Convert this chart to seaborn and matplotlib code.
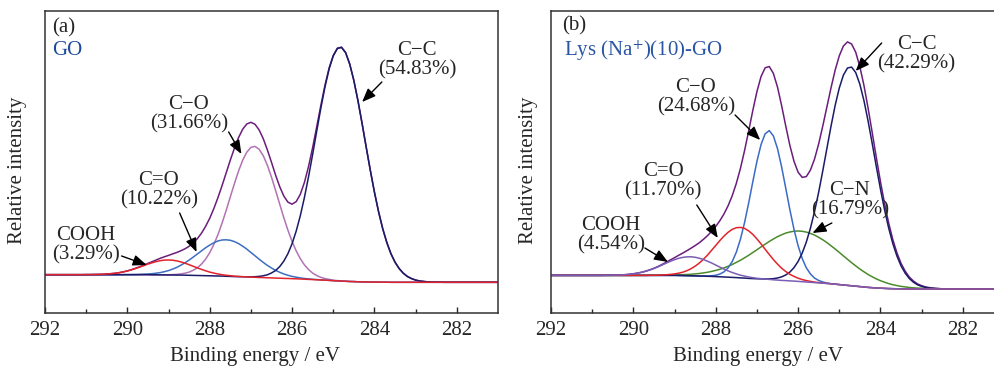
import matplotlib
matplotlib.use("Agg")
import matplotlib.pyplot as plt
import matplotlib.ticker as mtick
import numpy as np
import pandas as pd
import seaborn as sns


# binding energy grid (eV), 0.1 eV steps, shared by both panels
ENERGY = [
    292.0, 291.9, 291.8, 291.7, 291.6, 291.5, 291.4, 291.3, 291.2, 291.1,
    291.0, 290.9, 290.8, 290.7, 290.6, 290.5, 290.4, 290.3, 290.2, 290.1,
    290.0, 289.9, 289.8, 289.7, 289.6, 289.5, 289.4, 289.3, 289.2, 289.1,
    289.0, 288.9, 288.8, 288.7, 288.6, 288.5, 288.4, 288.3, 288.2, 288.1,
    288.0, 287.9, 287.8, 287.7, 287.6, 287.5, 287.4, 287.3, 287.2, 287.1,
    287.0, 286.9, 286.8, 286.7, 286.6, 286.5, 286.4, 286.3, 286.2, 286.1,
    286.0, 285.9, 285.8, 285.7, 285.6, 285.5, 285.4, 285.3, 285.2, 285.1,
    285.0, 284.9, 284.8, 284.7, 284.6, 284.5, 284.4, 284.3, 284.2, 284.1,
    284.0, 283.9, 283.8, 283.7, 283.6, 283.5, 283.4, 283.3, 283.2, 283.1,
    283.0, 282.9, 282.8, 282.7, 282.6, 282.5, 282.4, 282.3, 282.2, 282.1,
    282.0, 281.9, 281.8, 281.7, 281.6, 281.5, 281.4, 281.3, 281.2, 281.1,
    281.0,
]

# (a) GO -- background, and fitted components above the background (a.u.)
BASE_A = [
    38.3, 38.3, 38.3, 38.3, 38.3, 38.3, 38.3, 38.3, 38.3, 38.3,
    38.3, 38.3, 38.3, 38.3, 38.3, 38.3, 38.3, 38.3, 38.3, 38.3,
    38.3, 38.3, 38.3, 38.3, 38.3, 38.3, 38.2, 38.2, 38.1, 38.1,
    38.0, 38.0, 37.9, 37.9, 37.8, 37.7, 37.6, 37.5, 37.4, 37.3,
    37.2, 37.1, 37.0, 36.9, 36.7, 36.6, 36.4, 36.3, 36.1, 36.0,
    35.8, 35.7, 35.5, 35.4, 35.2, 35.1, 34.9, 34.8, 34.6, 34.5,
    34.3, 34.2, 34.0, 33.8, 33.6, 33.4, 33.2, 33.0, 32.8, 32.6,
    32.3, 32.1, 31.9, 31.7, 31.5, 31.4, 31.2, 31.1, 31.0, 31.0,
    30.9, 30.9, 30.8, 30.8, 30.7, 30.7, 30.7, 30.7, 30.7, 30.7,
    30.7, 30.7, 30.7, 30.7, 30.7, 30.7, 30.7, 30.7, 30.7, 30.7,
    30.7, 30.7, 30.7, 30.7, 30.7, 30.7, 30.7, 30.7, 30.7, 30.7,
    30.7,
]
COOH_A = [
    0, 0, 0, 0, 0, 0, 0, 0, 0, 0,
    0.1, 0.1, 0.2, 0.3, 0.4, 0.7, 1.0, 1.4, 2.0, 2.8,
    3.7, 4.9, 6.2, 7.6, 9.1, 10.6, 12.0, 13.2, 14.2, 14.8,
    15.0, 14.8, 14.2, 13.2, 12.0, 10.6, 9.1, 7.6, 6.2, 4.9,
    3.7, 2.8, 2.0, 1.4, 1.0, 0.7, 0.4, 0.3, 0.2, 0.1,
    0.1, 0, 0, 0, 0, 0, 0, 0, 0, 0,
    0, 0, 0, 0, 0, 0, 0, 0, 0, 0,
    0, 0, 0, 0, 0, 0, 0, 0, 0, 0,
    0, 0, 0, 0, 0, 0, 0, 0, 0, 0,
    0, 0, 0, 0, 0, 0, 0, 0, 0, 0,
    0, 0, 0, 0, 0, 0, 0, 0, 0, 0,
    0,
]
C_DBL_O_A = [
    0, 0, 0, 0, 0, 0, 0, 0, 0, 0,
    0, 0, 0, 0, 0, 0, 0, 0, 0, 0,
    0.1, 0.1, 0.2, 0.3, 0.5, 0.7, 1.1, 1.6, 2.3, 3.2,
    4.4, 5.9, 7.7, 9.9, 12.4, 15.2, 18.3, 21.5, 24.7, 27.9,
    30.7, 33.1, 35.0, 36.1, 36.5, 36.1, 35.0, 33.1, 30.7, 27.9,
    24.7, 21.5, 18.3, 15.2, 12.4, 9.9, 7.7, 5.9, 4.4, 3.2,
    2.3, 1.6, 1.1, 0.7, 0.5, 0.3, 0.2, 0.1, 0.1, 0,
    0, 0, 0, 0, 0, 0, 0, 0, 0, 0,
    0, 0, 0, 0, 0, 0, 0, 0, 0, 0,
    0, 0, 0, 0, 0, 0, 0, 0, 0, 0,
    0, 0, 0, 0, 0, 0, 0, 0, 0, 0,
    0,
]
C_O_A = [
    0, 0, 0, 0, 0, 0, 0, 0, 0, 0,
    0, 0, 0, 0, 0, 0, 0, 0, 0, 0,
    0, 0, 0, 0, 0, 0, 0, 0, 0.1, 0.1,
    0.2, 0.4, 0.7, 1.2, 2.0, 3.2, 5.1, 7.7, 11.5, 16.5,
    23.1, 31.4, 41.4, 53.0, 65.9, 79.5, 93.0, 105.7, 116.6, 124.8,
    129.8, 130.9, 128.2, 121.9, 112.5, 100.8, 87.6, 74.0, 60.6, 48.2,
    37.2, 27.9, 20.3, 14.3, 9.8, 6.5, 4.2, 2.6, 1.6, 1.0,
    0.5, 0.3, 0.2, 0.1, 0, 0, 0, 0, 0, 0,
    0, 0, 0, 0, 0, 0, 0, 0, 0, 0,
    0, 0, 0, 0, 0, 0, 0, 0, 0, 0,
    0, 0, 0, 0, 0, 0, 0, 0, 0, 0,
    0,
]
C_C_A = [
    0, 0, 0, 0, 0, 0, 0, 0, 0, 0,
    0, 0, 0, 0, 0, 0, 0, 0, 0, 0,
    0, 0, 0, 0, 0, 0, 0, 0, 0, 0,
    0, 0, 0, 0, 0, 0, 0, 0, 0, 0,
    0, 0, 0, 0, 0, 0, 0, 0, 0.1, 0.2,
    0.3, 0.6, 1.1, 1.8, 3.0, 4.9, 7.6, 11.6, 17.3, 24.9,
    35.0, 47.7, 63.3, 81.8, 102.7, 125.4, 149.0, 172.2, 193.5, 211.5,
    224.8, 232.4, 233.7, 228.6, 217.4, 201.1, 181.0, 158.4, 134.8, 111.6,
    89.9, 70.4, 53.6, 39.7, 28.6, 20.1, 13.7, 9.1, 5.8, 3.7,
    2.2, 1.3, 0.8, 0.4, 0.2, 0.1, 0.1, 0, 0, 0,
    0, 0, 0, 0, 0, 0, 0, 0, 0, 0,
    0,
]

# (b) Lys (Na+)(10)-GO
BASE_B = [
    37.6, 37.6, 37.6, 37.6, 37.6, 37.6, 37.6, 37.6, 37.6, 37.6,
    37.6, 37.6, 37.6, 37.6, 37.6, 37.6, 37.6, 37.6, 37.6, 37.6,
    37.6, 37.6, 37.6, 37.6, 37.6, 37.6, 37.6, 37.6, 37.6, 37.6,
    37.6, 37.5, 37.4, 37.3, 37.2, 37.1, 37.0, 36.9, 36.7, 36.6,
    36.4, 36.2, 36.0, 35.8, 35.6, 35.4, 35.1, 34.9, 34.6, 34.4,
    34.1, 33.9, 33.6, 33.4, 33.1, 32.9, 32.6, 32.4, 32.1, 31.9,
    31.6, 31.3, 31.0, 30.7, 30.4, 30.1, 29.8, 29.5, 29.1, 28.8,
    28.4, 28.0, 27.6, 27.2, 26.8, 26.4, 26.0, 25.6, 25.3, 25.0,
    24.8, 24.6, 24.4, 24.3, 24.2, 24.1, 24.1, 24.0, 24.0, 24.0,
    24.0, 24.0, 24.0, 24.0, 24.0, 24.0, 24.0, 24.0, 24.0, 24.0,
    24.0, 24.0, 24.0, 24.0, 24.0, 24.0, 24.0, 24.0, 24.0, 24.0,
    24.0,
]
COOH_B = [
    0, 0, 0, 0, 0, 0, 0, 0, 0, 0,
    0, 0, 0, 0.1, 0.1, 0.2, 0.3, 0.5, 0.7, 1.1,
    1.6, 2.3, 3.1, 4.2, 5.4, 6.9, 8.6, 10.4, 12.3, 14.1,
    15.7, 17.2, 18.2, 18.8, 19.0, 18.6, 17.8, 16.6, 15.1, 13.4,
    11.5, 9.7, 7.9, 6.3, 4.9, 3.7, 2.7, 2.0, 1.4, 0.9,
    0.6, 0.4, 0.3, 0.2, 0.1, 0, 0, 0, 0, 0,
    0, 0, 0, 0, 0, 0, 0, 0, 0, 0,
    0, 0, 0, 0, 0, 0, 0, 0, 0, 0,
    0, 0, 0, 0, 0, 0, 0, 0, 0, 0,
    0, 0, 0, 0, 0, 0, 0, 0, 0, 0,
    0, 0, 0, 0, 0, 0, 0, 0, 0, 0,
    0,
]
C_DBL_O_B = [
    0, 0, 0, 0, 0, 0, 0, 0, 0, 0,
    0, 0, 0, 0, 0, 0, 0, 0, 0, 0,
    0, 0, 0, 0, 0.1, 0.1, 0.2, 0.4, 0.6, 1.0,
    1.5, 2.3, 3.4, 5.0, 7.1, 9.7, 12.9, 16.8, 21.2, 26.1,
    31.1, 36.2, 40.9, 44.9, 48.0, 49.9, 50.5, 49.7, 47.5, 44.2,
    40.0, 35.2, 30.1, 25.1, 20.3, 16.0, 12.2, 9.1, 6.6, 4.7,
    3.2, 2.1, 1.4, 0.9, 0.5, 0.3, 0.2, 0.1, 0.1, 0,
    0, 0, 0, 0, 0, 0, 0, 0, 0, 0,
    0, 0, 0, 0, 0, 0, 0, 0, 0, 0,
    0, 0, 0, 0, 0, 0, 0, 0, 0, 0,
    0, 0, 0, 0, 0, 0, 0, 0, 0, 0,
    0,
]
C_O_B = [
    0, 0, 0, 0, 0, 0, 0, 0, 0, 0,
    0, 0, 0, 0, 0, 0, 0, 0, 0, 0,
    0, 0, 0, 0, 0, 0, 0, 0, 0, 0,
    0, 0, 0, 0, 0, 0, 0, 0.1, 0.3, 0.6,
    1.3, 2.7, 5.1, 9.3, 15.8, 25.4, 38.7, 55.5, 75.4, 96.8,
    117.4, 134.5, 145.6, 149.0, 144.0, 131.5, 113.5, 92.5, 71.3, 51.9,
    35.7, 23.2, 14.2, 8.3, 4.5, 2.4, 1.2, 0.5, 0.2, 0.1,
    0, 0, 0, 0, 0, 0, 0, 0, 0, 0,
    0, 0, 0, 0, 0, 0, 0, 0, 0, 0,
    0, 0, 0, 0, 0, 0, 0, 0, 0, 0,
    0, 0, 0, 0, 0, 0, 0, 0, 0, 0,
    0,
]
C_N_B = [
    0, 0, 0, 0, 0, 0, 0, 0, 0, 0,
    0, 0, 0, 0, 0, 0, 0, 0, 0, 0,
    0, 0, 0, 0, 0.1, 0.1, 0.1, 0.2, 0.3, 0.4,
    0.5, 0.7, 0.9, 1.2, 1.5, 2.0, 2.5, 3.2, 4.0, 5.0,
    6.2, 7.5, 9.1, 10.9, 12.9, 15.2, 17.6, 20.3, 23.1, 26.1,
    29.1, 32.2, 35.2, 38.1, 40.9, 43.4, 45.6, 47.5, 48.9, 49.9,
    50.4, 50.4, 49.9, 48.9, 47.5, 45.6, 43.4, 40.9, 38.1, 35.2,
    32.2, 29.1, 26.1, 23.1, 20.3, 17.6, 15.2, 12.9, 10.9, 9.1,
    7.5, 6.2, 5.0, 4.0, 3.2, 2.5, 2.0, 1.5, 1.2, 0.9,
    0.7, 0.5, 0.4, 0.3, 0.2, 0.1, 0.1, 0.1, 0, 0,
    0, 0, 0, 0, 0, 0, 0, 0, 0, 0,
    0,
]
C_C_B = [
    0, 0, 0, 0, 0, 0, 0, 0, 0, 0,
    0, 0, 0, 0, 0, 0, 0, 0, 0, 0,
    0, 0, 0, 0, 0, 0, 0, 0, 0, 0,
    0, 0, 0, 0, 0, 0, 0, 0, 0, 0,
    0, 0, 0, 0, 0, 0, 0, 0, 0, 0,
    0.1, 0.2, 0.4, 0.7, 1.2, 2.1, 3.5, 5.6, 8.8, 13.4,
    19.9, 28.6, 39.9, 54.1, 71.1, 90.7, 112.4, 135.1, 157.7, 178.7,
    196.5, 209.8, 217.4, 218.7, 213.6, 202.4, 186.3, 166.4, 144.3, 121.4,
    99.2, 78.7, 60.6, 45.2, 32.8, 23.1, 15.8, 10.5, 6.8, 4.2,
    2.6, 1.5, 0.9, 0.5, 0.3, 0.1, 0.1, 0, 0, 0,
    0, 0, 0, 0, 0, 0, 0, 0, 0, 0,
    0,
]

# peak labels and area fractions (%)
BONDS_A = ["COOH", "C=O", "C\u2212O", "C\u2212C"]
SHARE_A = [3.29, 10.22, 31.66, 54.83]
BONDS_B = ["COOH", "C=O", "C\u2212O", "C\u2212N", "C\u2212C"]
SHARE_B = [4.54, 11.70, 24.68, 16.79, 42.29]

SAMPLE_A = "GO"
SAMPLE_B = "Lys (Na$^{+}$)(10)-GO"

ENV = "#6b1d7c"


def draw_curves(ax, base, comps, colors):
    base = np.array(base)
    curves = {"Envelope": base + np.sum([np.array(v) for v in comps.values()], axis=0)}
    for name, vals in comps.items():
        curves[name] = base + np.array(vals)
    df = pd.DataFrame(curves)
    df["energy"] = ENERGY
    long = df.melt(id_vars="energy", var_name="component", value_name="intensity")
    sns.lineplot(
        data=long, x="energy", y="intensity", hue="component",
        hue_order=list(colors.keys()), palette=colors, estimator=None, sort=False,
        linewidth=1.1, legend=False, ax=ax,
    )


def style_axes(ax, xlab_x, ylab_x):
    ax.set_xlim(292, 281)
    ax.set_ylim(0, 302)
    ax.xaxis.set_major_locator(mtick.FixedLocator([292, 290, 288, 286, 284, 282]))
    ax.xaxis.set_minor_locator(mtick.FixedLocator([291, 289, 287, 285, 283]))
    ax.set_yticks([])
    ax.tick_params(axis="x", which="major", direction="in", length=4, width=1,
                   labelsize=15, pad=6, top=False)
    ax.tick_params(axis="x", which="minor", direction="in", length=3, width=1, top=False)
    for sp in ax.spines.values():
        sp.set_visible(True)
        sp.set_color("#333333")
        sp.set_linewidth(1.1)
    ax.set_xlabel("Binding energy / eV", fontsize=15)
    ax.set_ylabel("Relative intensity", fontsize=15)
    ax.xaxis.set_label_coords(xlab_x, -0.112)
    ax.yaxis.set_label_coords(ylab_x, 0.4735)


def label_peaks(ax, bonds, shares, spots):
    for bond, share, (tx, ty, x0, y0, x1, y1) in zip(bonds, shares, spots):
        ax.text(tx, ty, f"{bond}\n({share:.2f}%)", ha="center", va="center",
                fontsize=15, linespacing=1.05)
        ax.annotate("", xy=(x1, y1), xytext=(x0, y0),
                    arrowprops=dict(arrowstyle="-|>,head_length=0.55,head_width=0.22",
                                    color="black", lw=1.0, mutation_scale=15,
                                    shrinkA=0, shrinkB=0))


def main():
    sns.set_theme(style="ticks")
    plt.rcParams["font.family"] = ["Liberation Serif", "DejaVu Serif"]
    plt.rcParams["mathtext.fontset"] = "stix"

    fig = plt.figure(figsize=(9.95, 3.69), dpi=100)
    ax_a = fig.add_axes([0.0452, 0.1518, 0.4553, 0.8184])
    ax_b = fig.add_axes([0.5538, 0.1518, 0.4552, 0.8184])

    draw_curves(ax_a, BASE_A,
                {"C-O": C_O_A, "C=O": C_DBL_O_A, "C-C": C_C_A, "COOH": COOH_A},
                {"Envelope": ENV, "C-O": "#b273b4", "C=O": "#3c6ec2",
                 "C-C": "#1b1b68", "COOH": "#e3232b"})
    draw_curves(ax_b, BASE_B,
                {"C-N": C_N_B, "C-O": C_O_B, "C-C": C_C_B, "C=O": C_DBL_O_B, "COOH": COOH_B},
                {"Envelope": ENV, "C-N": "#4b8b2b", "C-O": "#3a6bc6",
                 "C-C": "#1b1b68", "C=O": "#e3232b", "COOH": "#7a5db5"})

    style_axes(ax_a, 0.4636, -0.039)
    style_axes(ax_b, 0.457, -0.0287)

    # label centre (x, y), arrow tail (x, y), arrow tip (x, y)
    label_peaks(ax_a, BONDS_A, SHARE_A, [
        (291.0, 68, 290.14, 57, 289.53, 48),
        (289.24, 123, 288.73, 100, 288.32, 61),
        (288.51, 199, 287.54, 181, 287.23, 159),
        (282.97, 253, 283.82, 231, 284.30, 211),
    ])
    label_peaks(ax_b, BONDS_B, SHARE_B, [
        (290.54, 78, 289.72, 65, 289.16, 51),
        (289.28, 132, 288.46, 108, 287.95, 75),
        (288.48, 216, 287.53, 198, 286.92, 173),
        (284.74, 113, 285.18, 90, 285.65, 80),
        (283.12, 259, 283.97, 270, 284.60, 242),
    ])

    ax_a.text(0.016, 0.944, "(a)", transform=ax_a.transAxes, fontsize=15, va="center")
    ax_a.text(0.016, 0.868, SAMPLE_A, transform=ax_a.transAxes, fontsize=15,
              va="center", color="#1d4b9b")
    ax_b.text(0.024, 0.95, "(b)", transform=ax_b.transAxes, fontsize=15, va="center")
    ax_b.text(0.029, 0.868, SAMPLE_B, transform=ax_b.transAxes, fontsize=15,
              va="center", color="#2a55a5")

    fig.savefig("out.png", dpi=100)
    plt.close(fig)


if __name__ == "__main__":
    main()
